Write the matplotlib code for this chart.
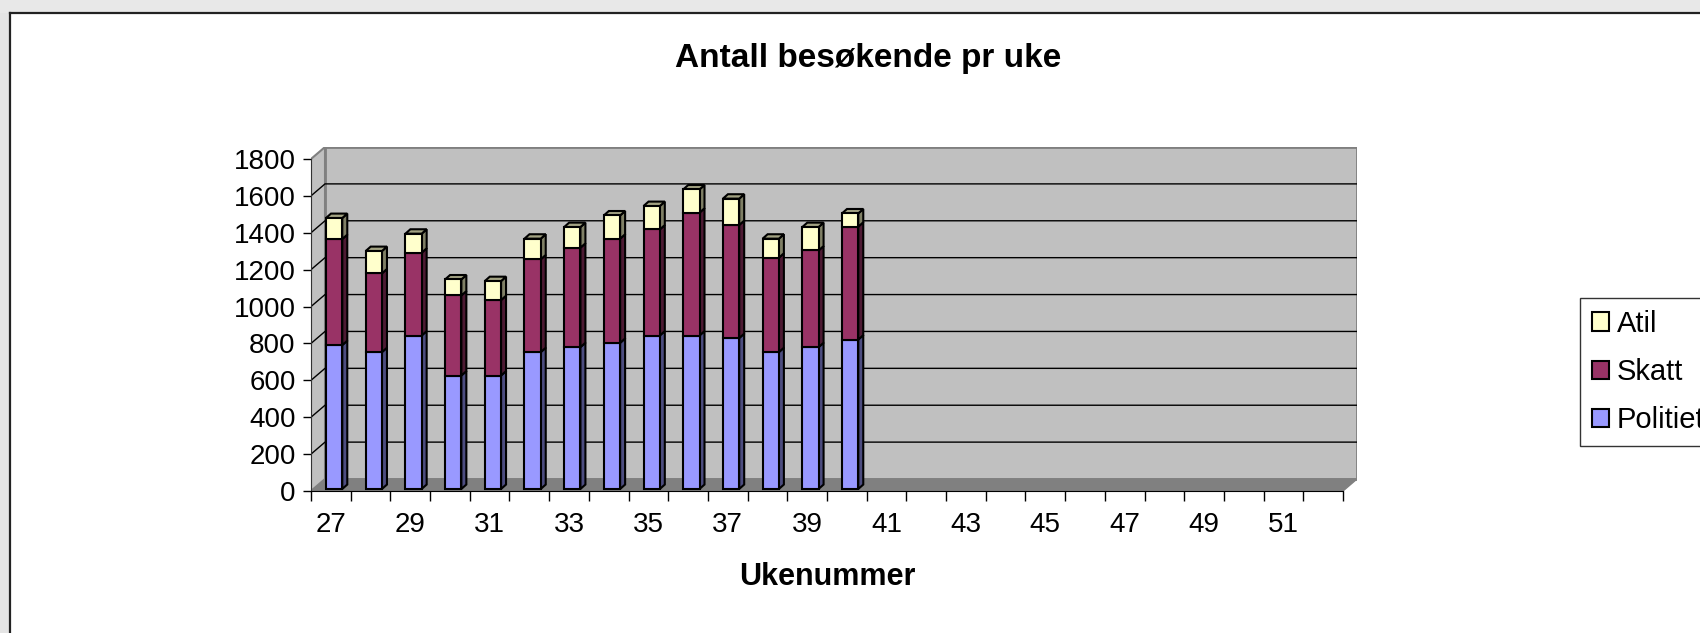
import numpy as np
import matplotlib.pyplot as plt
from matplotlib.patches import Polygon, Rectangle, Patch
from matplotlib.lines import Line2D

plt.rcParams['font.family'] = ['Liberation Sans', 'DejaVu Sans']

# data (weeks 27-40 filled, rest of the year empty)
weeks = list(range(27, 53))
politiet = [780, 742, 832, 615, 615, 742, 769, 792, 832, 832, 818, 742, 769, 810]
skatt = [575, 427, 449, 434, 409, 503, 539, 565, 575, 666, 613, 512, 524, 612]
atil = [114, 121, 103, 87, 103, 112, 112, 126, 127, 126, 143, 103, 127, 72]
yticks = list(range(0, 1801, 200))

W, H = 1700, 633
fig = plt.figure(figsize=(W / 100, H / 100), dpi=100)

# page background outside the chart frame
fig.add_artist(Rectangle((0, 0), 10 / W, 1, transform=fig.transFigure, fc='#e4e4e4', ec='none'))
fig.add_artist(Rectangle((0, 1 - 13 / H), 1, 13 / H, transform=fig.transFigure, fc='#e8e8e8', ec='none'))
fig.add_artist(Line2D([10 / W, 10 / W], [0, 1 - 13 / H], transform=fig.transFigure, color='#222222', lw=1.6))
fig.add_artist(Line2D([10 / W, 1], [1 - 13 / H, 1 - 13 / H], transform=fig.transFigure, color='#222222', lw=1.6))

n = len(weeks)
dx_wall, dy_wall = 0.353, 65   # depth of the 3d box in data units
ax = fig.add_axes([311 / W, (H - 491) / H, (1357 - 311) / W, (491 - 147) / H])
ax.set_xlim(-0.5, n - 0.5 + dx_wall)
ax.set_ylim(0, 1800 + dy_wall)
ax.set_facecolor('none')

x0, x1 = -0.5, n - 0.5
ax.add_patch(Rectangle((x0 + dx_wall, dy_wall), n, 1800, fc='#c0c0c0', ec='#808080', lw=2, zorder=0))
ax.add_patch(Polygon([(x0, 0), (x1, 0), (x1 + dx_wall, dy_wall), (x0 + dx_wall, dy_wall)],
                     closed=True, fc='#808080', ec='#808080', lw=1, zorder=0))
ax.add_patch(Polygon([(x0, 0), (x0 + dx_wall, dy_wall), (x0 + dx_wall, 1800 + dy_wall), (x0, 1800)],
                     closed=True, fc='#c0c0c0', ec='#808080', lw=1.5, zorder=0))
for v in yticks[1:-1]:
    ax.plot([x0, x0 + dx_wall, x1 + dx_wall], [v, v + dy_wall, v + dy_wall], color='black', lw=1, zorder=1)

# 3d stacked columns
bar_w, off = 0.41, 0.083
ddx, ddy, base = 0.126, 24, 11
x = np.arange(len(politiet)) + off
bottom = np.full(len(politiet), base, dtype=float)
series = [
    ('Politiet', politiet, '#9999ff', '#4d4d80'),
    ('Skatt', skatt, '#993366', '#4d1a33'),
    ('Atil', atil, '#ffffcc', '#808066'),
]
for name, vals, front, dark in series:
    vals = np.array(vals, dtype=float)
    ax.bar(x, vals, width=bar_w, bottom=bottom, color=front, edgecolor='black', lw=1.5, zorder=3)
    for xi, b, v in zip(x, bottom, vals):
        xr = xi + bar_w / 2
        ax.add_patch(Polygon([(xr, b), (xr + ddx, b + ddy), (xr + ddx, b + v + ddy), (xr, b + v)],
                             closed=True, fc=dark, ec='black', lw=1.5, zorder=2))
    bottom = bottom + vals
for xi, t in zip(x, bottom):
    ax.add_patch(Polygon([(xi - bar_w / 2, t), (xi + bar_w / 2, t),
                          (xi + bar_w / 2 + ddx, t + ddy), (xi - bar_w / 2 + ddx, t + ddy)],
                         closed=True, fc='#a3a383', ec='black', lw=1.5, zorder=2))

# axes
for s in ['top', 'right']:
    ax.spines[s].set_visible(False)
ax.spines['left'].set_bounds(0, 1800)
ax.spines['bottom'].set_bounds(x0, x1)
ax.spines['left'].set_color('#333333')
ax.set_yticks(yticks)
ax.tick_params(axis='y', direction='out', length=6, width=1, pad=5, labelsize=20)
ax.set_xticks(np.arange(-0.5, n, 1))
ax.set_xticklabels([])
ax.set_xticks(np.arange(0, n, 2), minor=True)
ax.set_xticklabels([str(w) for w in weeks[::2]], minor=True)
ax.tick_params(axis='x', which='major', direction='out', length=7, width=1)
ax.tick_params(axis='x', which='minor', length=0, pad=15, labelsize=20)

fig.text(868 / W, 1 - 58 / H, 'Antall besøkende pr uke', ha='center', va='center',
         fontsize=24, fontweight='bold')
fig.text(827 / W, 1 - 577 / H, 'Ukenummer', ha='center', va='center',
         fontsize=22, fontweight='bold')

# legend sits at the right edge and is clipped there, as in the original
handles = [Patch(fc=c, ec='black', lw=1.5, label=nm) for nm, _, c, _ in series[::-1]]
leg = fig.legend(handles=handles, loc='upper left', bbox_to_anchor=(1580 / W, 1 - 298 / H),
                 frameon=True, fancybox=False, edgecolor='black', fontsize=21,
                 handlelength=0.6, handleheight=0.6, handletextpad=0.25,
                 labelspacing=0.7, borderpad=0.4, borderaxespad=0)
leg.get_frame().set_linewidth(1)

fig.savefig('out.png', dpi=100)
